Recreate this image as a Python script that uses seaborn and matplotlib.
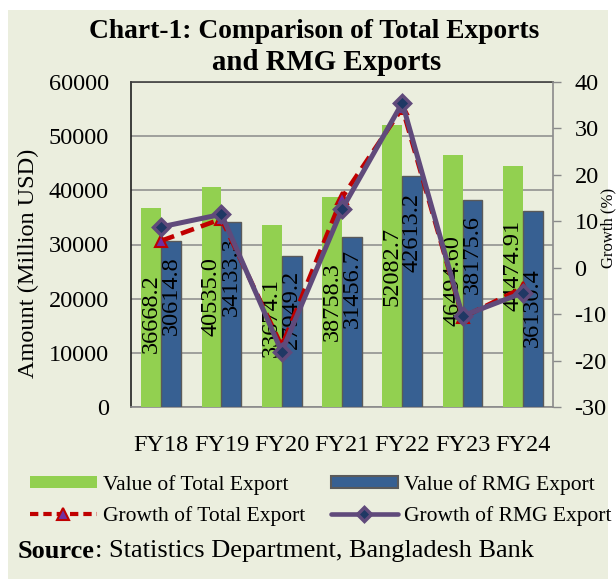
import numpy as np
import pandas as pd
import matplotlib
matplotlib.use("Agg")
import matplotlib.pyplot as plt
from matplotlib.patches import Rectangle
from matplotlib.lines import Line2D
from matplotlib.patches import Patch
import seaborn as sns

# ---------------- data ----------------
years = ["FY18", "FY19", "FY20", "FY21", "FY22", "FY23", "FY24"]
total_export = [36668.2, 40535.0, 33674.1, 38758.3, 52082.7, 46494.60, 44474.91]
rmg_export = [30614.8, 34133.3, 27949.2, 31456.7, 42613.2, 38175.6, 36130.4]
total_labels = ["36668.2", "40535.0", "33674.1", "38758.3", "52082.7", "46494.60", "44474.91"]
rmg_labels = ["30614.8", "34133.3", "27949.2", "31456.7", "42613.2", "38175.6", "36130.4"]
growth_total = [5.8, 10.5, -16.9, 15.1, 34.4, -10.7, -4.3]
growth_rmg = [8.8, 11.5, -18.1, 12.6, 35.5, -10.4, -5.4]

# label vertical centres (data units on the left axis) - layout only
total_label_y = [17200, 20300, 16600, 19400, 26000, 23300, 26200]
rmg_label_y = [20500, 24000, 18100, 21800, 32300, 28200, 18300]

# ---------------- style ----------------
BG = "#EBEEDE"
GREEN = "#92D050"
BLUE = "#376092"
PURPLE = "#604A7B"
RED = "#C00000"
GRID = "#8A8A8A"
FONT = "Liberation Serif"
FS = 17.5

sns.set_theme(style="white")
plt.rcParams["font.family"] = [FONT, "DejaVu Serif"]
plt.rcParams["text.color"] = "black"
plt.rcParams["axes.labelcolor"] = "black"
plt.rcParams["xtick.color"] = "black"
plt.rcParams["ytick.color"] = "black"

fig = plt.figure(figsize=(6.16, 5.79), dpi=100, facecolor="white")
fig.patches.append(Rectangle((8 / 616, 0), 600 / 616, 569 / 579,
                             transform=fig.transFigure, facecolor=BG,
                             edgecolor="none", zorder=-10))

L, R, T, B = 131, 553, 82, 407
ax = fig.add_axes([L / 616, 1 - B / 579, (R - L) / 616, (B - T) / 579])
ax.set_facecolor(BG)

df = pd.DataFrame({
    "Year": years * 2,
    "Value": total_export + rmg_export,
    "Series": ["Value of Total Export"] * len(years) + ["Value of RMG Export"] * len(years),
})
sns.barplot(data=df, x="Year", y="Value", hue="Series", order=years,
            hue_order=["Value of Total Export", "Value of RMG Export"],
            palette=[GREEN, BLUE], width=0.66, gap=0, ax=ax, legend=False,
            saturation=1, zorder=3)
for p in ax.patches[len(years):]:
    p.set_edgecolor("#5A5A5A")
    p.set_linewidth(1.0)
for p in ax.patches[:len(years)]:
    p.set_edgecolor("none")

ax.set_ylim(0, 60000)
ax.set_xlim(-0.5, len(years) - 0.5)
ax.set_yticks(np.arange(0, 60001, 10000))
ax.set_yticklabels([str(v) for v in range(0, 60001, 10000)])
ax.yaxis.grid(True, color=GRID, linewidth=1.1, zorder=0)
ax.set_axisbelow(True)
ax.set_xlabel("")
ax.set_ylabel("")
ax.tick_params(axis="y", which="both", length=0, pad=16, labelsize=FS,
               labelcolor="black")
ax.tick_params(axis="x", which="major", length=0, pad=20, labelsize=FS,
               labelcolor="black")
ax.set_xticks(np.arange(-0.5, len(years), 1.0), minor=True)
ax.tick_params(axis="x", which="minor", length=6, width=1.0, color=GRID,
               direction="out")
for lab in ax.get_xticklabels() + ax.get_yticklabels():
    lab.set_fontfamily(FONT)

ax.spines["left"].set_color("#202020")
ax.spines["left"].set_linewidth(1.2)
ax.spines["top"].set_color("#404040")
ax.spines["top"].set_linewidth(1.2)
ax.spines["bottom"].set_color(GRID)
ax.spines["bottom"].set_linewidth(1.2)
ax.spines["right"].set_visible(False)

# data labels
hw = 0.165
for i in range(len(years)):
    ax.text(i - hw, total_label_y[i], total_labels[i], rotation=90,
            ha="center", va="center", fontsize=FS, color="black", zorder=5,
            family=FONT)
    ax.text(i + hw, rmg_label_y[i], rmg_labels[i], rotation=90,
            ha="center", va="center", fontsize=FS, color="black", zorder=5,
            family=FONT)

# secondary axis - growth lines
ax2 = ax.twinx()
xpos = np.arange(len(years))
sns.lineplot(x=xpos, y=growth_total, ax=ax2, color=RED, linewidth=3.3,
             linestyle=(0, (3, 1.6)), marker="^", markersize=8,
             markerfacecolor="#7030A0", markeredgecolor=RED,
             markeredgewidth=1.5, zorder=4)
sns.lineplot(x=xpos, y=growth_rmg, ax=ax2, color=PURPLE, linewidth=3.6,
             marker="D", markersize=8, markerfacecolor="#1F3864",
             markeredgecolor=PURPLE, markeredgewidth=2.5, zorder=5)
ax2.set_ylim(-30, 40)
ax2.set_yticks(np.arange(-30, 41, 10))
ax2.set_yticklabels([str(v) for v in range(-30, 41, 10)])
ax2.tick_params(axis="y", length=6, width=1.0, color=GRID, direction="out",
                pad=9.5, labelsize=FS, labelcolor="black")
for lab in ax2.get_yticklabels():
    lab.set_fontfamily(FONT)
ax2.spines["right"].set_color(GRID)
ax2.spines["right"].set_linewidth(1.2)
for s in ["left", "top", "bottom"]:
    ax2.spines[s].set_visible(False)
ax2.set_xlim(-0.5, len(years) - 0.5)
ax2.grid(False)
ax2.set_ylabel("")

# axis titles
fig.text(28 / 616, 1 - 263 / 579, "Amount (Million USD)", rotation=90,
         ha="center", va="center", fontsize=FS, family=FONT)
fig.text(616 / 616, 1 - 228 / 579, "Growth (%)", rotation=90,
         ha="right", va="center", fontsize=12, family=FONT)

# title
fig.text(314 / 616, 1 - 31 / 579, "Chart-1: Comparison of Total Exports",
         ha="center", va="center", fontsize=19.8, fontweight="bold", family=FONT)
fig.text(327 / 616, 1 - 63 / 579, "and RMG Exports",
         ha="center", va="center", fontsize=20.8, fontweight="bold", family=FONT)

# legend
handles = [
    Patch(facecolor=GREEN, edgecolor="none"),
    Line2D([], [], color=RED, linewidth=3.0, linestyle=(0, (2, 1.2)),
           marker="^", markersize=8, markerfacecolor="#7030A0",
           markeredgecolor=RED, markeredgewidth=1.5),
    Patch(facecolor=BLUE, edgecolor="#5A5A5A", linewidth=1.5),
    Line2D([], [], color=PURPLE, linewidth=3.3, marker="D", markersize=7,
           markerfacecolor="#1F3864", markeredgecolor=PURPLE,
           markeredgewidth=2.5),
]
labels = ["Value of Total Export", "Growth of Total Export",
          "Value of RMG Export", "Growth of RMG Export"]
leg = fig.legend(handles, labels, ncol=2, loc="upper left",
                 bbox_to_anchor=(30 / 616, 1 - 475 / 579), frameon=False,
                 prop={"family": FONT, "size": 15.5}, handlelength=3.1,
                 handleheight=0.5, handletextpad=0.28, columnspacing=1.2,
                 labelspacing=0.5, borderpad=0, borderaxespad=0)

# source
t1 = fig.text(18 / 616, 1 - 551 / 579, "Source", ha="left", va="center",
              fontsize=19, fontweight="bold", family=FONT)
fig.canvas.draw()
bb = t1.get_window_extent()
fig.text(bb.x1 / fig.bbox.width, 1 - 551 / 579,
         ": Statistics Department, Bangladesh Bank", ha="left", va="center",
         fontsize=19, family=FONT)

fig.savefig("out.png", dpi=100, facecolor="white")
